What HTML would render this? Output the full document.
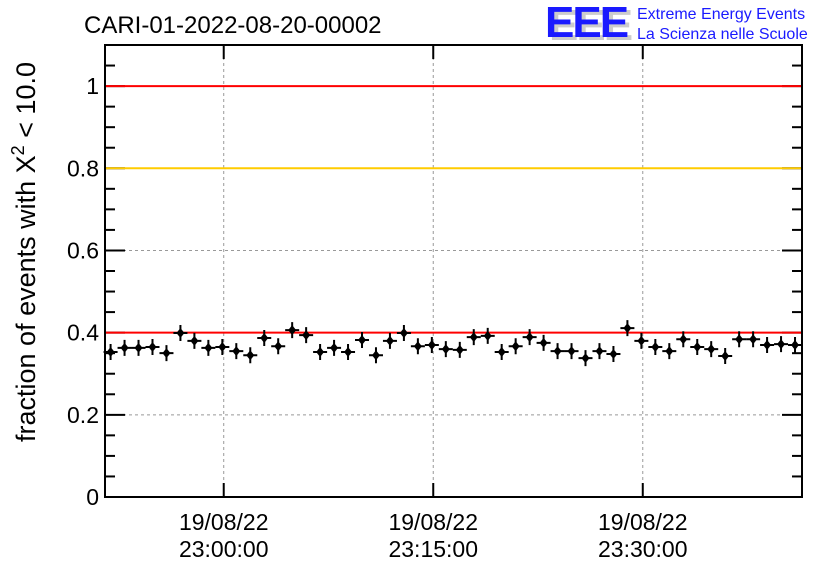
<!DOCTYPE html>
<html><head><meta charset="utf-8"><style>
body{margin:0;background:#fff}
svg{display:block;font-family:"Liberation Sans",sans-serif}
</style></head><body>
<svg id="chart" width="836" height="572" viewBox="0 0 836 572" xmlns="http://www.w3.org/2000/svg">
<rect width="836" height="572" fill="#fff"/>
<text x="84" y="33" font-size="24">CARI-01-2022-08-20-00002</text>
<g>
<text x="549" y="40" font-size="44" font-weight="bold" fill="#ccc" letter-spacing="-2">EEE</text>
<text x="545" y="37" font-size="44" font-weight="bold" fill="#1a1aff" letter-spacing="-2">EEE</text>
<text x="637" y="19" font-size="16" fill="#1a1aff">Extreme Energy Events</text>
<text x="637" y="39" font-size="16" fill="#1a1aff">La Scienza nelle Scuole</text>
</g>
<text transform="translate(35,252) rotate(-90)" text-anchor="middle" font-size="27">fraction of events with X<tspan dy="-11" font-size="18">2</tspan><tspan dy="11"> &lt; 10.0</tspan></text>
<g id="grid"></g><g id="axes"></g><g id="ref"></g><g id="pts"></g>
</svg>
<script>
const tickMinutes=[0,15,30];
const tickDates=["19/08/22","19/08/22","19/08/22"];
const tickTimes=["23:00:00","23:15:00","23:30:00"];
const yTicks=[0,0.2,0.4,0.6,0.8,1];
const yTickLabels=["0","0.2","0.4","0.6","0.8","1"];
const refValues=[1,0.8,0.4];
const refColors=["#ff0000","#ffcc00","#ff0000"];
const minutes=[];for(let i=0;i<50;i++)minutes.push(-8.1+i*1.0);
const fractions=[0.353,0.363,0.363,0.365,0.350,0.399,0.380,0.363,0.365,0.355,0.345,0.387,0.367,0.406,0.394,0.353,0.363,0.353,0.382,0.345,0.380,0.399,0.367,0.370,0.360,0.358,0.389,0.392,0.353,0.367,0.389,0.375,0.355,0.355,0.338,0.355,0.348,0.411,0.380,0.365,0.355,0.384,0.365,0.360,0.343,0.384,0.384,0.370,0.372,0.370];
const L=105,R=802,T=45,B=497,XMIN=-8.5,XMAX=41.4,YMIN=0,YMAX=1.1;
const X=m=>L+(m-XMIN)/(XMAX-XMIN)*(R-L);
const Y=v=>B-(v-YMIN)/(YMAX-YMIN)*(B-T);
const NS="http://www.w3.org/2000/svg";
function mk(tag,attrs,parent,txt){const e=document.createElementNS(NS,tag);for(const k in attrs)e.setAttribute(k,attrs[k]);if(txt!==undefined)e.textContent=txt;document.getElementById(parent).appendChild(e);return e;}
tickMinutes.forEach((m,i)=>{const e=mk('line',{x1:X(m),x2:X(m),y1:T,y2:B,stroke:'#999','stroke-dasharray':'3,3'},'grid');

});
yTicks.forEach(v=>{if(v<=0)return;const e=mk('line',{x1:L,x2:R,y1:Y(v),y2:Y(v),stroke:'#999','stroke-dasharray':'3,3'},'grid');

});
const fr=mk('rect',{x:L,y:T,width:R-L,height:B-T,fill:'none',stroke:'#000','stroke-width':2},'axes');


for(let k=0;k<=22;k++){const v=k*0.05;const major=k%4===0;const len=major?20:10;
mk('line',{x1:L,x2:L+len,y1:Y(v),y2:Y(v),stroke:'#000','stroke-width':2},'axes');
mk('line',{x1:R,x2:R-len,y1:Y(v),y2:Y(v),stroke:'#000','stroke-width':2},'axes');}
yTicks.forEach((v,i)=>{const e=mk('text',{x:L-6,y:Y(v)+8,'text-anchor':'end','font-size':23},'axes',yTickLabels[i]);

});
tickMinutes.forEach((m,i)=>{
mk('line',{x1:X(m),x2:X(m),y1:B,y2:B-14,stroke:'#000','stroke-width':2},'axes');
mk('line',{x1:X(m),x2:X(m),y1:T,y2:T+14,stroke:'#000','stroke-width':2},'axes');
const a=mk('text',{x:X(m),y:530,'text-anchor':'middle','font-size':23},'axes',tickDates[i]);


const b=mk('text',{x:X(m),y:557,'text-anchor':'middle','font-size':23},'axes',tickTimes[i]);

});
refValues.forEach((v,i)=>{const e=mk('line',{x1:L+1,x2:R-1,y1:Y(v),y2:Y(v),stroke:refColors[i],'stroke-width':2},'ref');

});
fractions.forEach((v,i)=>{const cx=X(minutes[i]),cy=Y(v);
const g=mk('g',{},'pts');


const p=document.createElementNS(NS,'path');
p.setAttribute('d',`M${cx-7} ${cy}H${cx+7}M${cx} ${cy-8}V${cy+8}`);p.setAttribute('stroke','#000');p.setAttribute('stroke-width','2');g.appendChild(p);
const d=document.createElementNS(NS,'path');
d.setAttribute('d',`M${cx} ${cy-5}L${cx+4} ${cy}L${cx} ${cy+5}L${cx-4} ${cy}Z`);d.setAttribute('fill','#000');g.appendChild(d);});
</script>
</body></html>
